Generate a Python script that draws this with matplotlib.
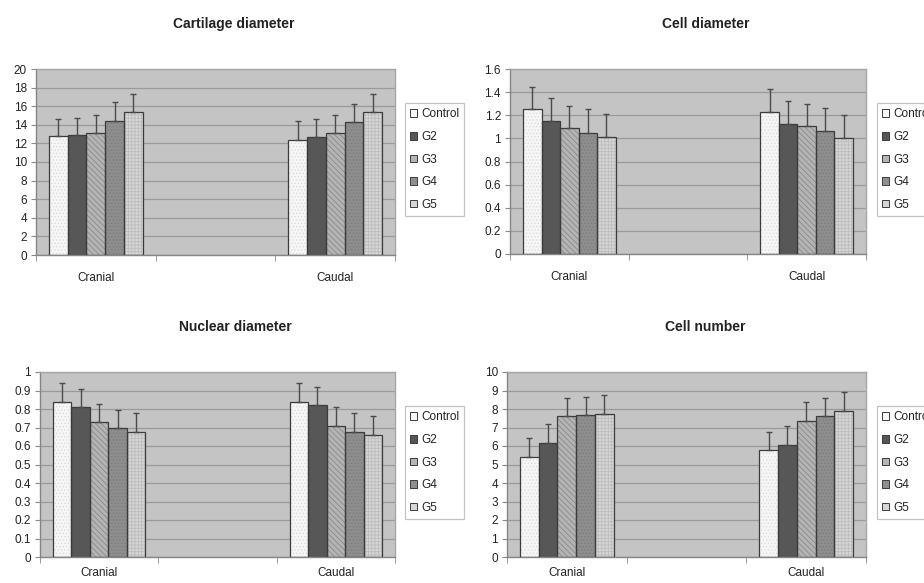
import matplotlib.pyplot as plt
from matplotlib.patches import Patch
from matplotlib.ticker import FormatStrFormatter, MultipleLocator, FixedLocator
import numpy as np

plt.rcParams['font.family'] = ['Liberation Sans', 'DejaVu Sans']
plt.rcParams['hatch.linewidth'] = 0.6

# categories (middle slot is empty, as in the original Excel chart)
categories = ['Cranial', '', 'Caudal']
groups = ['Control', 'G2', 'G3', 'G4', 'G5']

# values per group: [Cranial, Caudal]
cart_mean = {'Control': [12.8, 12.4], 'G2': [12.85, 12.65], 'G3': [13.1, 13.1],
             'G4': [14.45, 14.3], 'G5': [15.4, 15.35]}
cart_sd = {'Control': [1.8, 2.05], 'G2': [1.9, 1.95], 'G3': [2.0, 2.0],
           'G4': [1.95, 1.95], 'G5': [1.95, 2.0]}

celld_mean = {'Control': [1.25, 1.225], 'G2': [1.153, 1.124], 'G3': [1.09, 1.104],
              'G4': [1.046, 1.061], 'G5': [1.015, 1.003]}
celld_sd = {'Control': [0.196, 0.202], 'G2': [0.199, 0.202], 'G3': [0.193, 0.19],
            'G4': [0.205, 0.199], 'G5': [0.193, 0.196]}

nuc_mean = {'Control': [0.836, 0.836], 'G2': [0.809, 0.82], 'G3': [0.732, 0.706],
            'G4': [0.70, 0.677], 'G5': [0.677, 0.661]}
nuc_sd = {'Control': [0.104, 0.104], 'G2': [0.097, 0.10], 'G3': [0.095, 0.103],
          'G4': [0.096, 0.10], 'G5': [0.10, 0.099]}

num_mean = {'Control': [5.39, 5.77], 'G2': [6.16, 6.07], 'G3': [7.6, 7.37],
            'G4': [7.66, 7.6], 'G5': [7.75, 7.89]}
num_sd = {'Control': [1.04, 0.99], 'G2': [1.03, 0.99], 'G3': [0.98, 1.01],
          'G4': [1.01, 0.98], 'G5': [1.02, 1.05]}

# look of each group (greyscale Excel fills)
face = {'Control': '#f6f6f6', 'G2': '#575757', 'G3': '#b4b4b4', 'G4': '#8e8e8e', 'G5': '#d6d6d6'}
hatch = {'Control': '.....', 'G2': '', 'G3': '\\\\\\\\\\\\', 'G4': '.....', 'G5': '+++++'}
hatch_col = {'Control': '#dcdcdc', 'G2': '#575757', 'G3': '#8a8a8a', 'G4': '#7c7c7c', 'G5': '#bcbcbc'}

W, H = 924, 583
fig = plt.figure(figsize=(W / 100, H / 100), dpi=100)


def px_axes(left, top, right, bottom):
    return fig.add_axes([left / W, (H - bottom) / H, (right - left) / W, (bottom - top) / H])


def panel(ax, title, title_x, title_y, means, sds, ymax, ystep, fmt, leg_x, leg_y, xpad=12):
    x = np.array([0, 2])
    bw = 0.156
    for i, g in enumerate(groups):
        pos = x + (i - 2) * bw
        ax.bar(pos, means[g], bw, color=face[g], hatch=hatch[g], edgecolor=hatch_col[g],
               linewidth=0, zorder=2)
        ax.bar(pos, means[g], bw, color='none', edgecolor='#3c3c3c', linewidth=0.9,
               yerr=[[0, 0], sds[g]], capsize=2.5,
               error_kw=dict(ecolor='#4a4a4a', elinewidth=1.0, capthick=1.0), zorder=3)

    ax.set_facecolor('#c4c4c4')
    ax.set_xlim(-0.5, 2.5)
    ax.set_ylim(0, ymax)
    ax.yaxis.set_major_locator(MultipleLocator(ystep))
    ax.yaxis.set_major_formatter(FormatStrFormatter(fmt))
    ax.grid(axis='y', color='#9a9a9a', linewidth=0.9, zorder=1)
    ax.set_axisbelow(True)

    ax.set_xticks([0, 1, 2])
    ax.set_xticklabels(categories)
    ax.xaxis.set_minor_locator(FixedLocator([-0.5, 0.5, 1.5, 2.5]))
    ax.tick_params(axis='x', which='major', length=0, pad=xpad, labelsize=8.5, labelcolor='#222222')
    ax.tick_params(axis='x', which='minor', length=4, color='#8a8a8a', direction='out')
    ax.tick_params(axis='y', length=3.5, color='#8a8a8a', pad=3, labelsize=8.5, labelcolor='#222222')

    for s in ['top', 'right']:
        ax.spines[s].set_color('#a6a6a6')
    for s in ['left', 'bottom']:
        ax.spines[s].set_color('#858585')
    for s in ax.spines.values():
        s.set_linewidth(1.0)

    fig.text(title_x / W, 1 - title_y / H, title, ha='center', va='center',
             fontsize=10, fontweight='bold', color='#222222')

    handles = [Patch(facecolor=face[g], edgecolor='#3c3c3c', linewidth=0.7) for g in groups]
    leg = fig.legend(handles, groups, loc='upper left',
                     bbox_to_anchor=(leg_x / W, 1 - leg_y / H), bbox_transform=fig.transFigure,
                     fontsize=8.5, frameon=True, fancybox=False, borderaxespad=0,
                     handlelength=0.6, handleheight=0.6, handletextpad=0.3,
                     labelspacing=0.9, borderpad=0.45)
    leg.get_frame().set_edgecolor('#b4b4b4')
    leg.get_frame().set_linewidth(0.9)
    for t in leg.get_texts():
        t.set_color('#222222')


ax1 = px_axes(36, 69, 395, 255)
panel(ax1, 'Cartilage diameter', 234, 24, cart_mean, cart_sd, 20, 2, '%g', 405, 103)

ax2 = px_axes(510, 69, 866, 254)
panel(ax2, 'Cell diameter', 706, 24, celld_mean, celld_sd, 1.6, 0.2, '%g', 877, 103)

ax3 = px_axes(40, 372, 395, 557)
panel(ax3, 'Nuclear diameter', 235, 327, nuc_mean, nuc_sd, 1.0, 0.1, '%g', 405, 406, xpad=7)

ax4 = px_axes(507, 372, 866, 557)
panel(ax4, 'Cell number', 705, 327, num_mean, num_sd, 10, 1, '%g', 877, 406, xpad=7)

fig.savefig('out.png', dpi=100, facecolor='white')
